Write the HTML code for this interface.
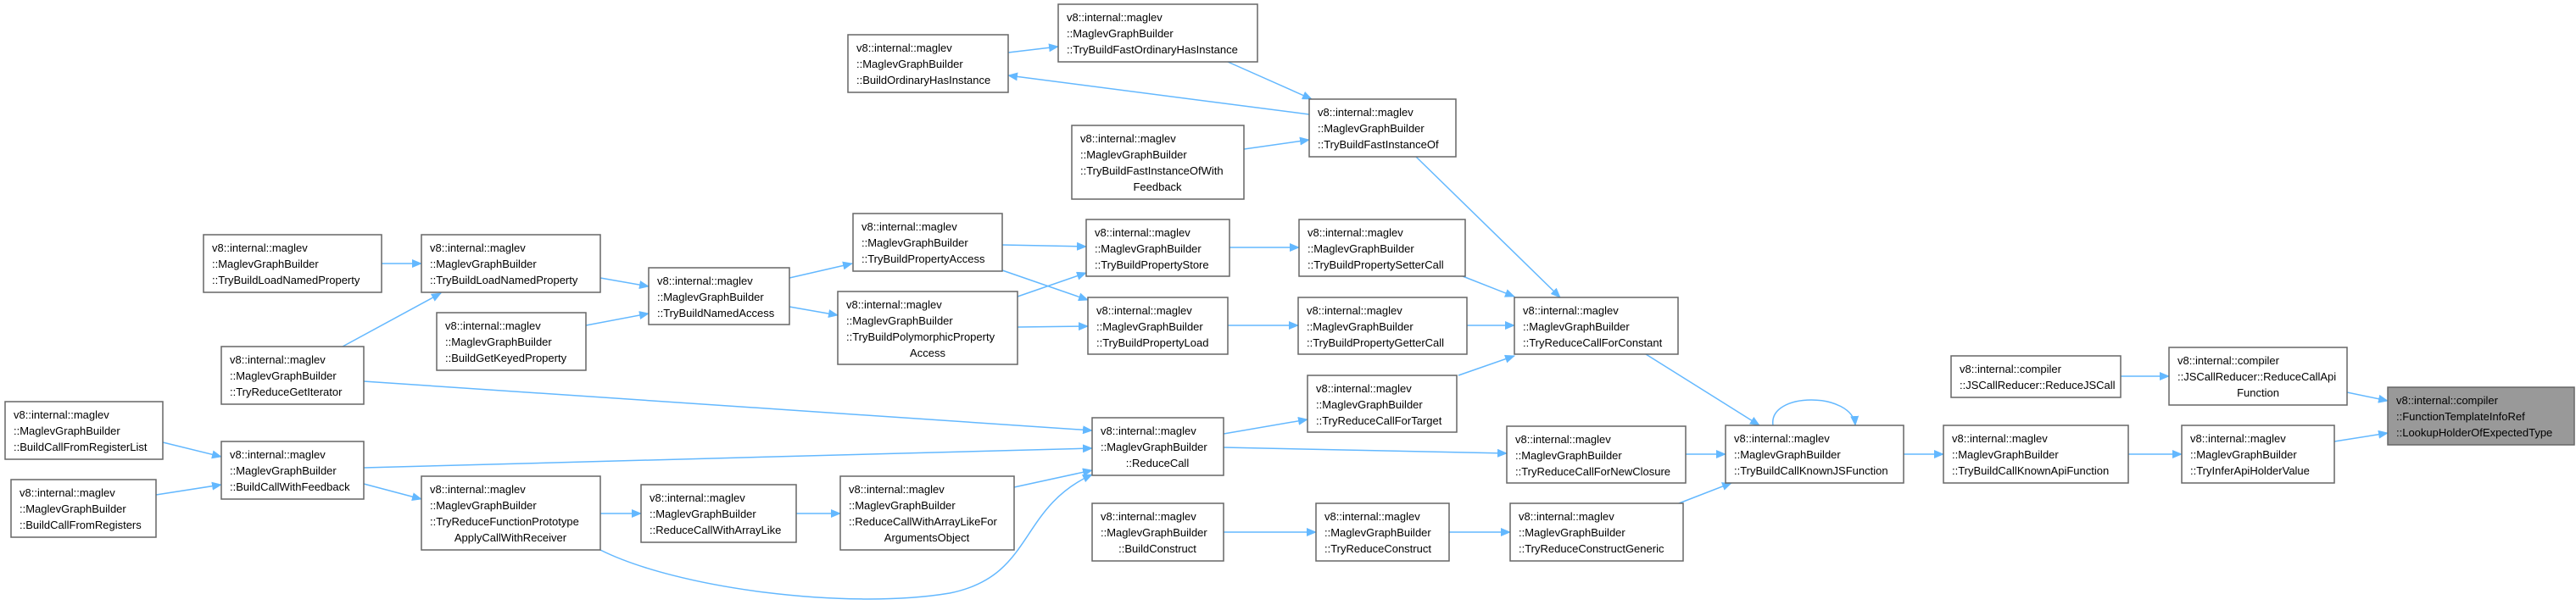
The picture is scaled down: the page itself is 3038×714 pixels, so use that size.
<!DOCTYPE html>
<html><head><meta charset="utf-8"><style>
html,body{margin:0;padding:0;background:#fff;}
svg{display:block;}
text{font-family:"Liberation Sans",sans-serif;font-size:13px;fill:#000;}
.n{fill:#fff;stroke:#666;stroke-width:1.5;}
.e{fill:none;stroke:#63b8ff;stroke-width:1.5;}
</style></head><body>
<svg width="3038" height="714" viewBox="0 0 3038 714" xmlns="http://www.w3.org/2000/svg">
<defs><marker id="a" markerWidth="12" markerHeight="10" refX="11" refY="5" orient="auto" markerUnits="userSpaceOnUse"><path d="M0,0 L12,5 L0,10 z" fill="#63b8ff"/></marker></defs>
<g class="edges">
<path class="e" marker-end="url(#a)" d="M450,311 L497,311"/>
<path class="e" marker-end="url(#a)" d="M708,328 L765,338"/>
<path class="e" marker-end="url(#a)" d="M691,384 L765,370"/>
<path class="e" marker-end="url(#a)" d="M404,409 L520,346"/>
<path class="e" marker-end="url(#a)" d="M931,328 L1005,311"/>
<path class="e" marker-end="url(#a)" d="M931,362 L988,372"/>
<path class="e" marker-end="url(#a)" d="M1182,289 L1281,291"/>
<path class="e" marker-end="url(#a)" d="M1182,319 L1283,354"/>
<path class="e" marker-end="url(#a)" d="M1200,350 L1281,322"/>
<path class="e" marker-end="url(#a)" d="M1200,386 L1283,385"/>
<path class="e" marker-end="url(#a)" d="M1450,292 L1532,292"/>
<path class="e" marker-end="url(#a)" d="M1448,384 L1531,384"/>
<path class="e" marker-end="url(#a)" d="M1725,326 L1786,350"/>
<path class="e" marker-end="url(#a)" d="M1730,384 L1786,384"/>
<path class="e" marker-end="url(#a)" d="M1720,443 L1786,420"/>
<path class="e" marker-end="url(#a)" d="M1443,512 L1542,495"/>
<path class="e" marker-end="url(#a)" d="M429,450 L1288,508"/>
<path class="e" marker-end="url(#a)" d="M429,552 L1288,529"/>
<path class="e" marker-end="url(#a)" d="M1196,575 L1288,555"/>
<path class="e" marker-end="url(#a)" d="M708,649 C800,695 1000,720 1120,700 C1220,680 1200,600 1288,560"/>
<path class="e" marker-end="url(#a)" d="M192,522 L261,539"/>
<path class="e" marker-end="url(#a)" d="M184,584 L261,572"/>
<path class="e" marker-end="url(#a)" d="M429,571 L497,589"/>
<path class="e" marker-end="url(#a)" d="M708,606 L756,606"/>
<path class="e" marker-end="url(#a)" d="M939,606 L991,606"/>
<path class="e" marker-end="url(#a)" d="M1443,528 L1777,535"/>
<path class="e" marker-end="url(#a)" d="M1988,536 L2035,536"/>
<path class="e" marker-end="url(#a)" d="M1941,418 L2075,502"/>
<path class="e" marker-end="url(#a)" d="M1980,594 L2042,570"/>
<path class="e" marker-end="url(#a)" d="M1443,628 L1552,628"/>
<path class="e" marker-end="url(#a)" d="M1709,628 L1781,628"/>
<path class="e" marker-end="url(#a)" d="M2091,502 C2085,462 2185,462 2188,502"/>
<path class="e" marker-end="url(#a)" d="M2245,536 L2292,536"/>
<path class="e" marker-end="url(#a)" d="M2510,536 L2573,536"/>
<path class="e" marker-end="url(#a)" d="M2753,521 L2816,511"/>
<path class="e" marker-end="url(#a)" d="M2501,444 L2558,444"/>
<path class="e" marker-end="url(#a)" d="M2768,463 L2816,473"/>
<path class="e" marker-end="url(#a)" d="M1544,135 L1189,89"/>
<path class="e" marker-end="url(#a)" d="M1189,62 L1248,55"/>
<path class="e" marker-end="url(#a)" d="M1448,73 L1547,117"/>
<path class="e" marker-end="url(#a)" d="M1467,176 L1544,165"/>
<path class="e" marker-end="url(#a)" d="M1670,185 L1840,351"/>
</g>
<g>
<rect class="n" x="240" y="277" width="210" height="68"/><text x="250" y="297">v8::internal::maglev</text><text x="250" y="316">::MaglevGraphBuilder</text><text x="250" y="335">::TryBuildLoadNamedProperty</text>
<rect class="n" x="497" y="277" width="211" height="68"/><text x="507" y="297">v8::internal::maglev</text><text x="507" y="316">::MaglevGraphBuilder</text><text x="507" y="335">::TryBuildLoadNamedProperty</text>
<rect class="n" x="765" y="316" width="166" height="67"/><text x="775" y="336">v8::internal::maglev</text><text x="775" y="355">::MaglevGraphBuilder</text><text x="775" y="374">::TryBuildNamedAccess</text>
<rect class="n" x="515" y="369" width="176" height="68"/><text x="525" y="389">v8::internal::maglev</text><text x="525" y="408">::MaglevGraphBuilder</text><text x="525" y="427">::BuildGetKeyedProperty</text>
<rect class="n" x="261" y="409" width="168" height="68"/><text x="271" y="429">v8::internal::maglev</text><text x="271" y="448">::MaglevGraphBuilder</text><text x="271" y="467">::TryReduceGetIterator</text>
<rect class="n" x="6" y="474" width="186" height="68"/><text x="16" y="494">v8::internal::maglev</text><text x="16" y="513">::MaglevGraphBuilder</text><text x="16" y="532">::BuildCallFromRegisterList</text>
<rect class="n" x="261" y="521" width="168" height="68"/><text x="271" y="541">v8::internal::maglev</text><text x="271" y="560">::MaglevGraphBuilder</text><text x="271" y="579">::BuildCallWithFeedback</text>
<rect class="n" x="13" y="566" width="171" height="68"/><text x="23" y="586">v8::internal::maglev</text><text x="23" y="605">::MaglevGraphBuilder</text><text x="23" y="624">::BuildCallFromRegisters</text>
<rect class="n" x="497" y="562" width="211" height="87"/><text x="507" y="582">v8::internal::maglev</text><text x="507" y="601">::MaglevGraphBuilder</text><text x="507" y="620">::TryReduceFunctionPrototype</text><text x="602" y="639" text-anchor="middle">ApplyCallWithReceiver</text>
<rect class="n" x="756" y="572" width="183" height="68"/><text x="766" y="592">v8::internal::maglev</text><text x="766" y="611">::MaglevGraphBuilder</text><text x="766" y="630">::ReduceCallWithArrayLike</text>
<rect class="n" x="991" y="562" width="205" height="87"/><text x="1001" y="582">v8::internal::maglev</text><text x="1001" y="601">::MaglevGraphBuilder</text><text x="1001" y="620">::ReduceCallWithArrayLikeFor</text><text x="1093" y="639" text-anchor="middle">ArgumentsObject</text>
<rect class="n" x="1000" y="41" width="189" height="68"/><text x="1010" y="61">v8::internal::maglev</text><text x="1010" y="80">::MaglevGraphBuilder</text><text x="1010" y="99">::BuildOrdinaryHasInstance</text>
<rect class="n" x="1248" y="5" width="235" height="68"/><text x="1258" y="25">v8::internal::maglev</text><text x="1258" y="44">::MaglevGraphBuilder</text><text x="1258" y="63">::TryBuildFastOrdinaryHasInstance</text>
<rect class="n" x="1544" y="117" width="173" height="68"/><text x="1554" y="137">v8::internal::maglev</text><text x="1554" y="156">::MaglevGraphBuilder</text><text x="1554" y="175">::TryBuildFastInstanceOf</text>
<rect class="n" x="1264" y="148" width="203" height="87"/><text x="1274" y="168">v8::internal::maglev</text><text x="1274" y="187">::MaglevGraphBuilder</text><text x="1274" y="206">::TryBuildFastInstanceOfWith</text><text x="1365" y="225" text-anchor="middle">Feedback</text>
<rect class="n" x="1006" y="252" width="176" height="68"/><text x="1016" y="272">v8::internal::maglev</text><text x="1016" y="291">::MaglevGraphBuilder</text><text x="1016" y="310">::TryBuildPropertyAccess</text>
<rect class="n" x="988" y="344" width="212" height="86"/><text x="998" y="364">v8::internal::maglev</text><text x="998" y="383">::MaglevGraphBuilder</text><text x="998" y="402">::TryBuildPolymorphicProperty</text><text x="1094" y="421" text-anchor="middle">Access</text>
<rect class="n" x="1281" y="259" width="169" height="67"/><text x="1291" y="279">v8::internal::maglev</text><text x="1291" y="298">::MaglevGraphBuilder</text><text x="1291" y="317">::TryBuildPropertyStore</text>
<rect class="n" x="1532" y="259" width="196" height="67"/><text x="1542" y="279">v8::internal::maglev</text><text x="1542" y="298">::MaglevGraphBuilder</text><text x="1542" y="317">::TryBuildPropertySetterCall</text>
<rect class="n" x="1283" y="351" width="165" height="67"/><text x="1293" y="371">v8::internal::maglev</text><text x="1293" y="390">::MaglevGraphBuilder</text><text x="1293" y="409">::TryBuildPropertyLoad</text>
<rect class="n" x="1531" y="351" width="199" height="67"/><text x="1541" y="371">v8::internal::maglev</text><text x="1541" y="390">::MaglevGraphBuilder</text><text x="1541" y="409">::TryBuildPropertyGetterCall</text>
<rect class="n" x="1786" y="351" width="193" height="67"/><text x="1796" y="371">v8::internal::maglev</text><text x="1796" y="390">::MaglevGraphBuilder</text><text x="1796" y="409">::TryReduceCallForConstant</text>
<rect class="n" x="1542" y="443" width="176" height="67"/><text x="1552" y="463">v8::internal::maglev</text><text x="1552" y="482">::MaglevGraphBuilder</text><text x="1552" y="501">::TryReduceCallForTarget</text>
<rect class="n" x="1288" y="493" width="155" height="68"/><text x="1298" y="513">v8::internal::maglev</text><text x="1298" y="532">::MaglevGraphBuilder</text><text x="1365" y="551" text-anchor="middle">::ReduceCall</text>
<rect class="n" x="1777" y="503" width="211" height="67"/><text x="1787" y="523">v8::internal::maglev</text><text x="1787" y="542">::MaglevGraphBuilder</text><text x="1787" y="561">::TryReduceCallForNewClosure</text>
<rect class="n" x="1288" y="594" width="155" height="68"/><text x="1298" y="614">v8::internal::maglev</text><text x="1298" y="633">::MaglevGraphBuilder</text><text x="1365" y="652" text-anchor="middle">::BuildConstruct</text>
<rect class="n" x="1552" y="594" width="157" height="68"/><text x="1562" y="614">v8::internal::maglev</text><text x="1562" y="633">::MaglevGraphBuilder</text><text x="1562" y="652">::TryReduceConstruct</text>
<rect class="n" x="1781" y="594" width="204" height="68"/><text x="1791" y="614">v8::internal::maglev</text><text x="1791" y="633">::MaglevGraphBuilder</text><text x="1791" y="652">::TryReduceConstructGeneric</text>
<rect class="n" x="2035" y="502" width="210" height="68"/><text x="2045" y="522">v8::internal::maglev</text><text x="2045" y="541">::MaglevGraphBuilder</text><text x="2045" y="560">::TryBuildCallKnownJSFunction</text>
<rect class="n" x="2292" y="502" width="218" height="68"/><text x="2302" y="522">v8::internal::maglev</text><text x="2302" y="541">::MaglevGraphBuilder</text><text x="2302" y="560">::TryBuildCallKnownApiFunction</text>
<rect class="n" x="2573" y="502" width="180" height="68"/><text x="2583" y="522">v8::internal::maglev</text><text x="2583" y="541">::MaglevGraphBuilder</text><text x="2583" y="560">::TryInferApiHolderValue</text>
<rect class="n" x="2301" y="420" width="200" height="49"/><text x="2311" y="440">v8::internal::compiler</text><text x="2311" y="459">::JSCallReducer::ReduceJSCall</text>
<rect class="n" x="2558" y="410" width="210" height="68"/><text x="2568" y="430">v8::internal::compiler</text><text x="2568" y="449">::JSCallReducer::ReduceCallApi</text><text x="2663" y="468" text-anchor="middle">Function</text>
<rect x="2816" y="457" width="220" height="68" fill="#999" stroke="#666" stroke-width="1.5"/><text x="2826" y="477">v8::internal::compiler</text><text x="2826" y="496">::FunctionTemplateInfoRef</text><text x="2826" y="515">::LookupHolderOfExpectedType</text>
</g>
</svg>
</body></html>
